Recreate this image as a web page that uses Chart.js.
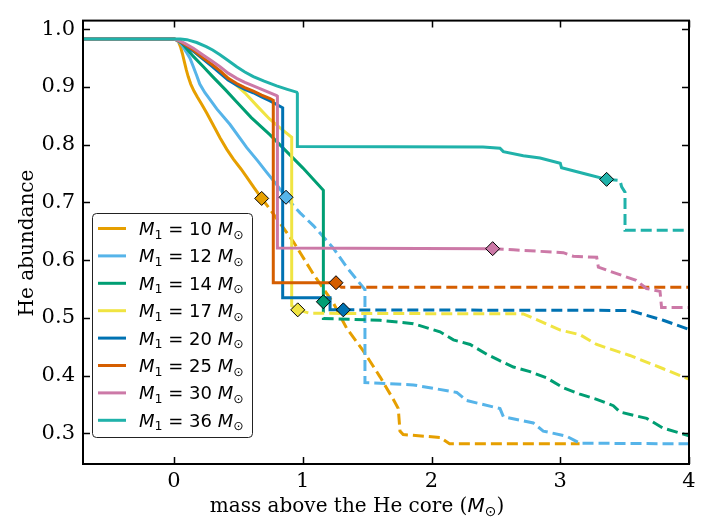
<!DOCTYPE html>
<html>
<head>
<meta charset="utf-8">
<script src="https://cdn.jsdelivr.net/npm/chart.js@4.4.1/dist/chart.umd.min.js"></script>
<style>
  html, body { margin: 0; padding: 0; background: #fff; }
  #wrap { width: 724px; height: 527px; }
</style>
</head>
<body>
<div id="wrap"><canvas id="chart"></canvas></div>
<script>
// primary masses and their colours
const masses = [10, 12, 14, 17, 20, 25, 30, 36];
const colors = ['#E69F00', '#56B4E9', '#009E73', '#F0E442', '#0072B2', '#D55E00', '#CC79A7', '#20B2AA'];

// mass above the He core (Msun) and He abundance.
// the point at cutN is the diamond: solid up to it, dashed after it
const x10 = [-0.71, 0.0, 0.02, 0.035, 0.05, 0.065, 0.08, 0.095, 0.11, 0.13, 0.155, 0.18, 0.215, 0.254, 0.3, 0.357, 0.41, 0.461, 0.52, 0.565, 0.62, 0.681,
             0.746, 0.927, 1.082, 1.237, 1.341, 1.47, 1.6, 1.703, 1.742, 1.755, 1.78, 2.066, 2.14, 3.15];
const y10 = [0.983, 0.983, 0.982, 0.978, 0.970, 0.958, 0.944, 0.930, 0.918, 0.905, 0.893, 0.883, 0.870, 0.855, 0.836, 0.812, 0.792, 0.775, 0.758, 0.744, 0.726, 0.707,
             0.688, 0.632, 0.576, 0.526, 0.482, 0.443, 0.398, 0.359, 0.343, 0.304, 0.298, 0.293, 0.282, 0.282];
const cut10 = 21;

const x12 = [-0.71, 0.0, 0.02, 0.04, 0.06, 0.08, 0.1, 0.124, 0.15, 0.176, 0.2, 0.24, 0.28, 0.332, 0.435, 0.565, 0.65, 0.72, 0.80, 0.870,
             0.979, 1.082, 1.237, 1.341, 1.483, 1.483, 1.6, 1.859, 2.196, 2.273, 2.532, 2.558, 2.791, 2.868, 3.05, 3.153, 4.0];
const y12 = [0.983, 0.983, 0.981, 0.978, 0.973, 0.966, 0.959, 0.950, 0.935, 0.920, 0.905, 0.890, 0.878, 0.862, 0.835, 0.795, 0.772, 0.752, 0.730, 0.709,
             0.682, 0.660, 0.621, 0.588, 0.549, 0.388, 0.387, 0.384, 0.371, 0.357, 0.343, 0.329, 0.318, 0.304, 0.295, 0.283, 0.282];
const cut12 = 19;

const x14 = [-0.71, 0.0, 0.03, 0.06, 0.1, 0.15, 0.228, 0.3, 0.4, 0.487, 0.6, 0.746, 0.875, 1.0, 1.16, 1.16,
             1.16, 1.6, 1.859, 2.066, 2.17, 2.30, 2.43, 2.53, 2.636, 2.765, 2.895, 3.024, 3.153, 3.283, 3.412, 3.464, 3.671, 3.80, 4.0];
const y14 = [0.983, 0.983, 0.981, 0.976, 0.966, 0.953, 0.935, 0.918, 0.895, 0.874, 0.847, 0.817, 0.788, 0.760, 0.721, 0.528,
             0.499, 0.496, 0.490, 0.476, 0.462, 0.454, 0.437, 0.426, 0.415, 0.407, 0.396, 0.379, 0.368, 0.359, 0.348, 0.337, 0.326, 0.309, 0.296];
const cut14 = 15;

const x17 = [-0.71, 0.0, 0.03, 0.07, 0.124, 0.2, 0.28, 0.357, 0.45, 0.55, 0.65, 0.74, 0.83, 0.914, 0.914, 0.961,
             1.056, 2.713, 3.0, 3.153, 3.283, 3.54, 3.80, 4.0];
const y17 = [0.983, 0.983, 0.981, 0.976, 0.967, 0.953, 0.940, 0.928, 0.910, 0.890, 0.866, 0.845, 0.828, 0.813, 0.521, 0.514,
             0.508, 0.507, 0.479, 0.471, 0.454, 0.435, 0.412, 0.394];
const cut17 = 15;

const x20 = [-0.71, 0.0, 0.03, 0.08, 0.15, 0.228, 0.3, 0.357, 0.42, 0.487, 0.55, 0.616, 0.68, 0.746, 0.844, 0.844, 1.212, 1.212, 1.315,
             3.54, 3.80, 4.0];
const y20 = [0.983, 0.983, 0.981, 0.973, 0.962, 0.948, 0.935, 0.924, 0.912, 0.903, 0.896, 0.890, 0.883, 0.876, 0.864, 0.535, 0.535, 0.514, 0.514,
             0.513, 0.496, 0.480];
const cut20 = 18;

const x25 = [-0.71, 0.0, 0.03, 0.08, 0.15, 0.228, 0.3, 0.357, 0.42, 0.487, 0.55, 0.616, 0.68, 0.746, 0.771, 0.771, 1.258,
             1.3, 4.0];
const y25 = [0.983, 0.983, 0.981, 0.974, 0.964, 0.950, 0.938, 0.928, 0.915, 0.906, 0.899, 0.893, 0.886, 0.880, 0.877, 0.561, 0.561,
             0.553, 0.553];
const cut25 = 16;

const x30 = [-0.71, 0.0, 0.03, 0.08, 0.15, 0.228, 0.3, 0.357, 0.42, 0.487, 0.55, 0.616, 0.7, 0.797, 0.803, 0.803, 2.475,
             2.636, 3.024, 3.10, 3.283, 3.296, 3.41, 3.59, 3.67, 3.775, 3.787, 4.0];
const y30 = [0.983, 0.983, 0.981, 0.976, 0.967, 0.955, 0.944, 0.935, 0.924, 0.915, 0.908, 0.902, 0.894, 0.885, 0.884, 0.621, 0.620,
             0.618, 0.613, 0.607, 0.605, 0.588, 0.579, 0.565, 0.551, 0.546, 0.518, 0.518];
const cut30 = 16;

const x36 = [-0.71, 0.0, 0.05, 0.1, 0.176, 0.25, 0.3, 0.357, 0.42, 0.487, 0.55, 0.616, 0.7, 0.797, 0.88, 0.953, 0.958, 0.958,
             2.4, 2.532, 2.558, 2.713, 2.843, 3.0, 3.01, 3.205, 3.36,
             3.464, 3.477, 3.503, 3.503, 4.0];
const y36 = [0.983, 0.983, 0.983, 0.982, 0.977, 0.970, 0.964, 0.956, 0.946, 0.935, 0.926, 0.918, 0.910, 0.902, 0.896, 0.891, 0.889, 0.797,
             0.796, 0.794, 0.788, 0.781, 0.777, 0.768, 0.760, 0.749, 0.740,
             0.738, 0.727, 0.718, 0.652, 0.652];
const cut36 = 26;

const xTicks = [0, 1, 2, 3, 4];
const yTicks = [0.3, 0.4, 0.5, 0.6, 0.7, 0.8, 0.9, 1.0];

const models = [
  [x10, y10, cut10], [x12, y12, cut12], [x14, y14, cut14], [x17, y17, cut17],
  [x20, y20, cut20], [x25, y25, cut25], [x30, y30, cut30], [x36, y36, cut36]
];

const toPts = (xs, ys) => xs.map((x, j) => ({ x: x, y: ys[j] }));

const datasets = [];
models.forEach(([xs, ys, cut], i) => {
  const base = {
    borderColor: colors[i],
    borderWidth: 3,
    pointRadius: 0,
    showLine: true,
    fill: false,
    order: 20 - i
  };
  datasets.push(Object.assign({ label: 'M1 = ' + masses[i] }, base, {
    data: toPts(xs.slice(0, cut + 1), ys.slice(0, cut + 1))
  }));
  datasets.push(Object.assign({ label: 'M1 = ' + masses[i] + ' (dashed)' }, base, {
    data: toPts(xs.slice(cut), ys.slice(cut)),
    borderDash: [11, 5]
  }));
});

// diamonds where the solid part ends
datasets.push({
  label: 'diamonds',
  data: models.map(([xs, ys, cut]) => ({ x: xs[cut], y: ys[cut] })),
  showLine: false,
  pointStyle: 'rectRot',
  pointRadius: 7,
  pointBackgroundColor: colors,
  pointBorderColor: '#000',
  pointBorderWidth: 1,
  order: 0
});

const serif = '"DejaVu Serif", serif';
const sans = '"DejaVu Sans", sans-serif';

const decor = {
  id: 'decor',
  afterDatasetsDraw(chart) {
    const { ctx, chartArea: a, scales } = chart;
    ctx.save();
    ctx.strokeStyle = '#000';
    ctx.lineWidth = 1.5;
    ctx.beginPath();
    xTicks.forEach(v => {
      const px = Math.round(scales.x.getPixelForValue(v)) + 0.5;
      ctx.moveTo(px, a.bottom); ctx.lineTo(px, a.bottom - 7);
      ctx.moveTo(px, a.top); ctx.lineTo(px, a.top + 7);
    });
    yTicks.forEach(v => {
      const py = Math.round(scales.y.getPixelForValue(v)) + 0.5;
      ctx.moveTo(a.left, py); ctx.lineTo(a.left + 7, py);
      ctx.moveTo(a.right, py); ctx.lineTo(a.right - 7, py);
    });
    ctx.stroke();
    ctx.lineWidth = 2;
    ctx.strokeRect(a.left, a.top, a.right - a.left, a.bottom - a.top);
    ctx.restore();
  },
  afterDraw(chart) {
    const { ctx } = chart;
    ctx.save();
    ctx.fillStyle = '#000';
    ctx.textBaseline = 'alphabetic';

    // x title with mathtext-like M_sun
    const parts = [
      ['mass above the He core (', '20px ' + serif, 0],
      ['M', 'italic 20px ' + sans, 0],
      ['\u2299', '14px ' + sans, 4],
      [')', '20px ' + serif, 0]
    ];
    let w = 0;
    parts.forEach(p => { ctx.font = p[1]; w += ctx.measureText(p[0]).width; });
    let x = 357 - w / 2;
    parts.forEach(p => {
      ctx.font = p[1];
      ctx.fillText(p[0], x, 512 + p[2]);
      x += ctx.measureText(p[0]).width;
    });

    // y title
    ctx.save();
    ctx.translate(33, 243);
    ctx.rotate(-Math.PI / 2);
    ctx.font = '20px ' + serif;
    ctx.textAlign = 'center';
    ctx.fillText('He abundance', 0, 0);
    ctx.restore();

    // legend
    const bx = 92.5, by = 213.5, bw = 160, bh = 224;
    ctx.beginPath();
    ctx.roundRect(bx, by, bw, bh, 4);
    ctx.fillStyle = 'rgba(255,255,255,0.85)';
    ctx.fill();
    ctx.strokeStyle = '#222';
    ctx.lineWidth = 1;
    ctx.stroke();
    masses.forEach((m, i) => {
      const cy = 228.5 + i * 27.4;
      ctx.strokeStyle = colors[i];
      ctx.lineWidth = 3;
      ctx.beginPath();
      ctx.moveTo(98, cy); ctx.lineTo(126, cy);
      ctx.stroke();
      ctx.fillStyle = '#000';
      const items = [
        ['M', 'italic 18px ' + sans, 0],
        ['1', '12.6px ' + sans, 3.5],
        [' = ' + m + ' ', '18px ' + sans, 0],
        ['M', 'italic 18px ' + sans, 0],
        ['\u2299', '12.6px ' + sans, 3.5]
      ];
      let tx = 139;
      items.forEach(p => {
        ctx.font = p[1];
        ctx.fillText(p[0], tx, cy + 6.5 + p[2]);
        tx += ctx.measureText(p[0]).width;
      });
    });
    ctx.restore();
  }
};

new Chart(document.getElementById('chart'), {
  type: 'scatter',
  data: { datasets: datasets },
  options: {
    responsive: true,
    maintainAspectRatio: false,
    animation: false,
    layout: { padding: { left: 0, top: 4, right: 35, bottom: 0 } },
    plugins: {
      legend: { display: false },
      tooltip: { enabled: false }
    },
    scales: {
      x: {
        type: 'linear',
        min: -0.707,
        max: 4,
        afterFit: s => { s.height = 63; },
        afterBuildTicks: s => { s.ticks = xTicks.map(v => ({ value: v })); },
        grid: { display: false, drawTicks: false },
        border: { display: false },
        ticks: { padding: 5, color: '#000', font: { family: 'DejaVu Serif', size: 21 } }
      },
      y: {
        type: 'linear',
        min: 0.247,
        max: 1.015,
        afterFit: s => { s.width = 83; },
        afterBuildTicks: s => { s.ticks = yTicks.map(v => ({ value: v })); },
        grid: { display: false, drawTicks: false },
        border: { display: false },
        ticks: {
          padding: 8,
          color: '#000',
          font: { family: 'DejaVu Serif', size: 21 },
          callback: v => v.toFixed(1)
        }
      }
    }
  },
  plugins: [decor]
});
</script>
</body>
</html>
